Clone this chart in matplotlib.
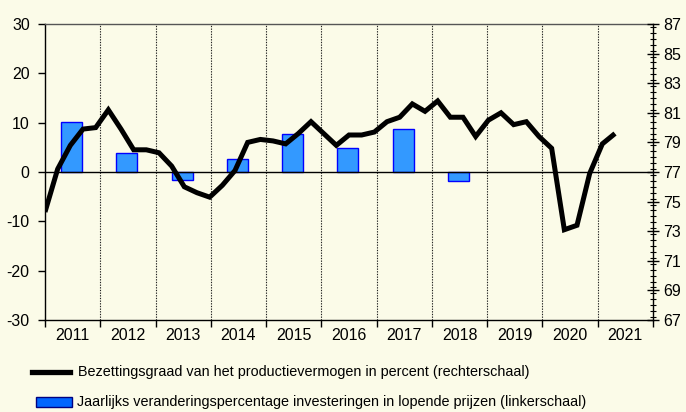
import numpy as np
import matplotlib
matplotlib.use("Agg")
import matplotlib.pyplot as plt
from matplotlib.lines import Line2D
from matplotlib.patches import Rectangle
from matplotlib.ticker import FixedLocator, MultipleLocator

# ---------------- data ----------------
years = ["2011", "2012", "2013", "2014", "2015", "2016", "2017", "2018", "2019", "2020", "2021"]
investment_growth = [10.2, 3.8, -1.7, 2.6, 7.8, 4.9, 8.7, -1.9, np.nan, np.nan, np.nan]
capacity_utilisation = [
    74.3, 77.2, 78.8, 79.9, 80.0, 81.2, 79.9, 78.5, 78.5, 78.3,
    77.4, 76.0, 75.6, 75.3, 76.1, 77.1, 79.0, 79.2, 79.1, 78.9,
    79.6, 80.4, 79.6, 78.8, 79.5, 79.5, 79.7, 80.4, 80.7, 81.6,
    81.1, 81.8, 80.7, 80.7, 79.4, 80.5, 81.0, 80.2, 80.4, 79.4,
    78.6, 73.1, 73.4, 76.9, 78.9, 79.6,
]
right_ticks = [67, 69, 71, 73, 75, 77, 79, 81, 83, 85, 87]
label_line = "Bezettingsgraad van het productievermogen in percent (rechterschaal)"
label_bar = "Jaarlijks veranderingspercentage investeringen in lopende prijzen (linkerschaal)"

# ---------------- style ----------------
plt.rcParams["font.family"] = ["Liberation Sans", "DejaVu Sans"]
plt.rcParams["font.size"] = 11
plt.rcParams["axes.unicode_minus"] = False

bg = "#FBFBE8"
W, H = 686, 412
fig = plt.figure(figsize=(W / 100, H / 100), dpi=100, facecolor=bg)
left, right, top, bottom = 45, 653, 24, 320
ax = fig.add_axes([left / W, 1 - bottom / H, (right - left) / W, (bottom - top) / H])
ax.set_facecolor(bg)

n_years = len(years)
xc = np.arange(n_years) + 0.5
ax.bar(xc - 0.02, investment_growth, width=0.38, color="#3399FF", edgecolor="#0000FF",
       linewidth=1.0, zorder=2)
ax.axhline(0, color="black", lw=1.0, zorder=3)
ax.set_xlim(0, n_years)
ax.set_ylim(-30, 30)
ax.set_yticks(np.arange(-30, 31, 10))
ax.tick_params(axis="y", direction="out", length=5, width=1, pad=6, labelsize=11.5)

# x axis: ticks at category boundaries, labels at centres
ax.set_xticks(np.arange(0, n_years + 1))
ax.set_xticklabels([])
ax.set_xticks(xc, minor=True)
ax.set_xticklabels(years, minor=True)
ax.tick_params(axis="x", which="major", direction="out", length=5, width=1)
ax.tick_params(axis="x", which="minor", length=0, pad=6, labelsize=11.5)
for b in range(1, n_years):
    ax.axvline(b, color="#222222", lw=0.8, ls=(0, (1.2, 1.2)), zorder=1)

for s in ["left", "bottom"]:
    ax.spines[s].set_color("black")
    ax.spines[s].set_linewidth(1.0)
ax.spines["top"].set_color("#555555")
ax.spines["top"].set_linewidth(1.0)
ax.spines["right"].set_visible(False)

ax2 = ax.twinx()
ax2.set_ylim(67, 87)
xl = np.arange(len(capacity_utilisation)) * n_years / 48.0
ax2.plot(xl, capacity_utilisation, color="black", lw=3.6, solid_joinstyle="miter",
         solid_capstyle="butt", zorder=5)
ax2.yaxis.set_major_locator(FixedLocator(right_ticks))
ax2.yaxis.set_minor_locator(MultipleLocator(0.4))
ax2.tick_params(axis="y", which="major", direction="inout", length=9, width=1, pad=3, labelsize=11.5)
ax2.tick_params(axis="y", which="minor", direction="inout", length=5, width=0.8)
ax2.spines["right"].set_color("black")
ax2.spines["right"].set_linewidth(1.0)
for s in ["left", "top", "bottom"]:
    ax2.spines[s].set_visible(False)

# legend (manual, below plot)
y1 = 1 - 372 / H
fig.add_artist(Line2D([32 / W, 70 / W], [y1, y1], color="black", lw=3.8,
                      transform=fig.transFigure))
fig.text(78 / W, y1, label_line, va="center", ha="left", fontsize=10.4)
y2 = 1 - 402 / H
fig.add_artist(Rectangle((36 / W, y2 - 5 / H), 36 / W, 10 / H, facecolor="#0066FF",
                         edgecolor="#000080", lw=1, transform=fig.transFigure))
fig.text(77 / W, y2, label_bar, va="center", ha="left", fontsize=10.4)

fig.savefig("out.png", dpi=100, facecolor=bg)
